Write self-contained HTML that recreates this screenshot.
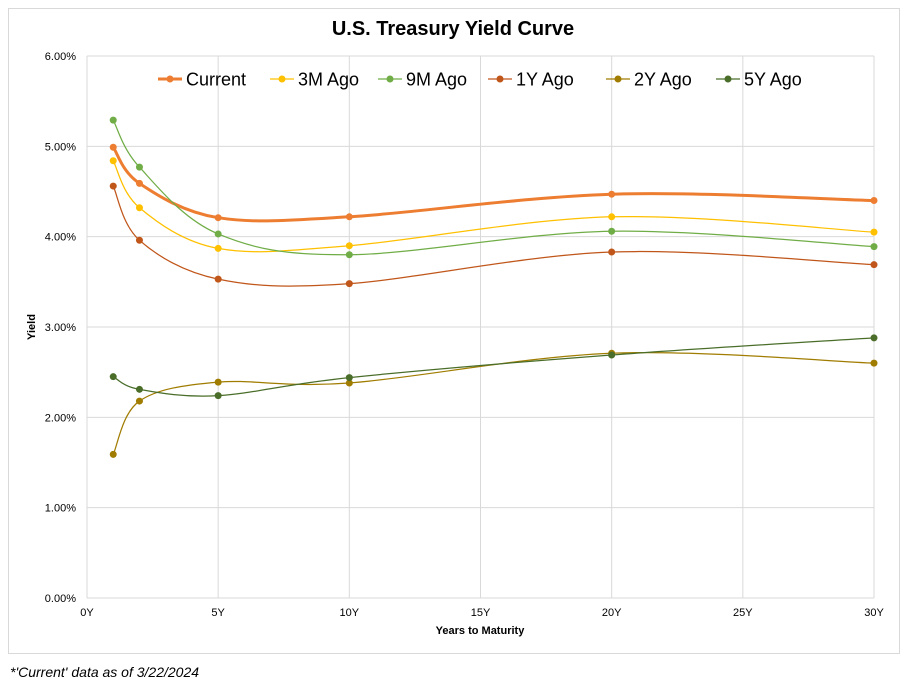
<!DOCTYPE html>
<html><head><meta charset="utf-8"><style>
body{margin:0;background:#fff;font-family:"Liberation Sans",Arial,sans-serif;}
svg{display:block}
</style></head><body>
<svg id="chart" width="909" height="689" xmlns="http://www.w3.org/2000/svg">
<rect x="8.5" y="8.5" width="891" height="645" fill="#fff" stroke="#d9d9d9"/>
<text x="453" y="35" text-anchor="middle" font-size="20" font-weight="bold">U.S. Treasury Yield Curve</text>
<g id="grid"></g>
<g id="axes"></g>
<g id="series"></g>
<g id="legend"></g>
<text transform="translate(35,327) rotate(-90)" text-anchor="middle" font-size="11" font-weight="bold">Yield</text>
<text x="480" y="634" text-anchor="middle" font-size="11" font-weight="bold">Years to Maturity</text>
<text x="10" y="677" font-size="14" font-style="italic">*'Current' data as of 3/22/2024</text>
</svg>
<script>
const maturities=[1,2,5,10,20,30];
const seriesNames=["Current","3M Ago","9M Ago","1Y Ago","2Y Ago","5Y Ago"];
const current=[4.99,4.59,4.21,4.22,4.47,4.40];
const ago3m=[4.84,4.32,3.87,3.90,4.22,4.05];
const ago9m=[5.29,4.77,4.03,3.80,4.06,3.89];
const ago1y=[4.56,3.96,3.53,3.48,3.83,3.69];
const ago2y=[1.59,2.18,2.39,2.38,2.71,2.60];
const ago5y=[2.45,2.31,2.24,2.44,2.69,2.88];
const xTicks=[0,5,10,15,20,25,30];
const xTickLabels=["0Y","5Y","10Y","15Y","20Y","25Y","30Y"];
const yTicks=[0,1,2,3,4,5,6];
const yTickLabels=["0.00%","1.00%","2.00%","3.00%","4.00%","5.00%","6.00%"];

const NS="http://www.w3.org/2000/svg";
const X0=87,X1=874,Y0=598,Y1=56;
const xs=v=>X0+(v-0)/(30-0)*(X1-X0);
const ys=v=>Y0-(v-0)/(6-0)*(Y0-Y1);
function mk(tag,attrs,parent,txt){const e=document.createElementNS(NS,tag);for(const k in attrs)e.setAttribute(k,attrs[k]);if(txt!=null)e.textContent=txt;parent.appendChild(e);return e;}
const grid=document.getElementById('grid'),axes=document.getElementById('axes'),ser=document.getElementById('series'),leg=document.getElementById('legend');
yTicks.forEach((t,i)=>{
  const l=mk('line',{x1:X0,x2:X1,y1:ys(t),y2:ys(t),stroke:'#d9d9d9'},grid);
  
  
  const tx=mk('text',{x:X0-11,y:ys(t)+4,'text-anchor':'end','font-size':11},axes,yTickLabels[i]);
  
  
});
xTicks.forEach((t,i)=>{
  const l=mk('line',{x1:xs(t),x2:xs(t),y1:Y1,y2:Y0,stroke:'#d9d9d9'},grid);
  
  
  const tx=mk('text',{x:xs(t),y:Y0+18,'text-anchor':'middle','font-size':11},axes,xTickLabels[i]);
  
  
});
function smooth(pts){
  let d=`M${pts[0][0]},${pts[0][1]}`;
  for(let i=0;i<pts.length-1;i++){
    const p0=pts[i-1]||pts[i],p1=pts[i],p2=pts[i+1],p3=pts[i+2]||p2;
    const c1=[p1[0]+(p2[0]-p0[0])/6,p1[1]+(p2[1]-p0[1])/6];
    const c2=[p2[0]-(p3[0]-p1[0])/6,p2[1]-(p3[1]-p1[1])/6];
    d+=` C${c1[0]},${c1[1]} ${c2[0]},${c2[1]} ${p2[0]},${p2[1]}`;
  }
  return d;
}
const allData=[current,ago3m,ago9m,ago1y,ago2y,ago5y];
const colors=["#ED7D31","#FFC000","#70AD47","#C0561A","#A07C00","#4A6E2A"];
const widths=[3,1.25,1.25,1.25,1.25,1.25];
const slug=["current","3m-ago","9m-ago","1y-ago","2y-ago","5y-ago"];
allData.forEach((vals,si)=>{
  const g=mk('g',{},ser);
  
  
  const pts=vals.map((v,i)=>[xs(maturities[i]),ys(v)]);
  const p=mk('path',{d:smooth(pts),fill:'none',stroke:colors[si],'stroke-width':widths[si]},g);
  
  
  pts.forEach(pt=>{
    const c=mk('circle',{cx:pt[0],cy:pt[1],r:3.5,fill:colors[si]},g);
    
    
  });
});
const legX=[158,270,378,488,606,716];
seriesNames.forEach((n,i)=>{
  const g=mk('g',{},leg);
  
  
  mk('line',{x1:legX[i],x2:legX[i]+24,y1:79,y2:79,stroke:colors[i],'stroke-width':widths[i]},g);
  mk('circle',{cx:legX[i]+12,cy:79,r:3.5,fill:colors[i]},g);
  mk('text',{x:legX[i]+28,y:85.5,'font-size':18},g,n);
});
</script>
</body></html>
